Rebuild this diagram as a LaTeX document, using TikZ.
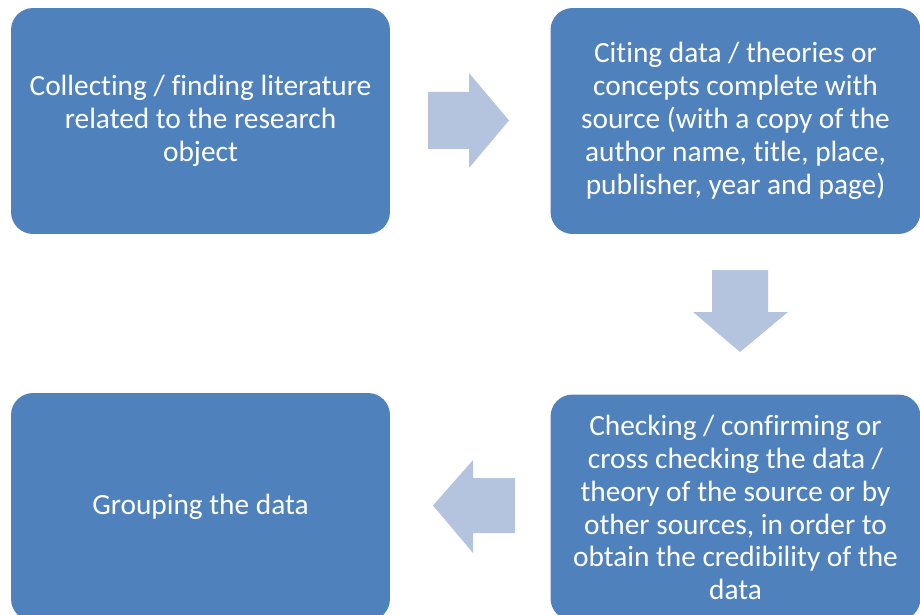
\documentclass[tikz,border=0pt]{standalone}
\usepackage{fontspec}
\setmainfont[Ligatures={NoCommon}]{Carlito}
\usepackage{tikz}
\definecolor{boxblue}{RGB}{79,129,189}
\definecolor{arrowblue}{RGB}{180,195,222}
\tikzset{
    stepbox/.style={rectangle, rounded corners=0.44cm, fill=boxblue, draw=none,
        text=white, align=center, inner sep=0mm,
        font=\fontsize{16.7}{18.7}\selectfont},
    blockarrow/.style={fill=arrowblue, draw=none}
}

\begin{document}
\begin{tikzpicture}[x=0.02cm, y=-0.02cm]
        \useasboundingbox (0,0) rectangle (920,615);
        \node (b1) [stepbox, minimum width=7.58cm, minimum height=4.52cm] at (200.5,121) {Collecting / finding literature\\related to the research\\object};
        \node (b2) [stepbox, minimum width=7.4cm, minimum height=4.52cm] at (735.5,121) {Citing data / theories or\\concepts complete with\\source (with a copy of the\\author name, title, place,\\publisher, year and page)};
        \node (b3) [stepbox, minimum width=7.4cm, minimum height=4.52cm] at (735.5,507.5) {Checking / confirming or\\cross checking the data /\\theory of the source or by\\other sources, in order to\\obtain the credibility of the\\data};
        \node (b4) [stepbox, minimum width=7.58cm, minimum height=4.56cm] at (200.5,507) {Grouping the data};
        % arrows between the boxes
        \fill[blockarrow] (428,92) -- (469,92) -- (469,73) -- (509,120.5) -- (469,168) -- (469,149) -- (428,149) -- cycle;
        \fill[blockarrow] (712,270) -- (768,270) -- (768,312) -- (788,312) -- (740,352) -- (693,312) -- (712,312) -- cycle;
        \fill[blockarrow] (515,478) -- (473,478) -- (473,460) -- (433,505.5) -- (473,553) -- (473,533) -- (515,533) -- cycle;
\end{tikzpicture}
\end{document}
